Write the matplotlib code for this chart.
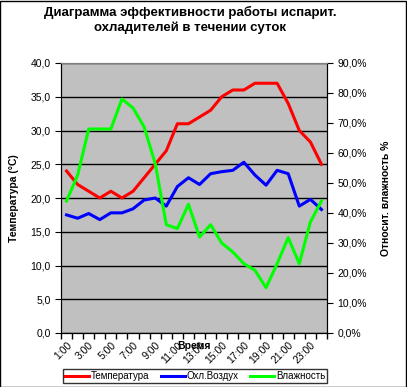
import numpy as np
import matplotlib.pyplot as plt
from matplotlib.patches import Rectangle
from matplotlib.ticker import FuncFormatter

plt.rcParams['font.family'] = ['Liberation Sans', 'DejaVu Sans']

hours = [f"{h}:00" for h in range(1, 25)]
temp = [24, 22, 21, 20, 21, 20, 21, 23, 25, 27, 31, 31,
        32, 33, 35, 36, 36, 37, 37, 37, 34, 30, 28.3, 25]
cooled = [17.5, 17, 17.7, 16.8, 17.8, 17.8, 18.4, 19.7, 20, 18.8, 21.7, 23,
          22, 23.6, 23.9, 24.1, 25.3, 23.4, 21.9, 24.1, 23.6, 18.8, 19.8, 18.3]
humidity = [44, 52.6, 68, 68, 68, 78, 75, 68.7, 56.5, 36.1, 34.8, 42.9,
            32, 36.1, 30, 27, 23.1, 20.9, 15.1, 23.1, 31.8, 23.1, 37, 44]

fig = plt.figure(figsize=(4.07, 3.87), dpi=100)
ax = fig.add_axes([61 / 407, 1 - 333 / 387, 266 / 407, 270 / 387])
ax2 = ax.twinx()

x = np.arange(len(hours))
l1, = ax.plot(x, temp, color='#ff0000', lw=2.2, label='Температура')
l2, = ax.plot(x, cooled, color='#0000ff', lw=2.2, label='Охл.Воздух')
l3, = ax2.plot(x, np.array(humidity) / 100, color='#00ff00', lw=2.2, label='Влажность')

ax.set_facecolor('#c0c0c0')
ax.set_xlim(-0.5, 23.5)
ax.set_ylim(0, 40)
ax.set_yticks(np.arange(0, 41, 5))
ax.yaxis.set_major_formatter(FuncFormatter(lambda v, p: f"{v:.1f}".replace('.', ',')))
ax.grid(axis='y', color='black', lw=1)
ax.set_axisbelow(True)

ax.set_xticks(x[::2], hours[::2], rotation=45, ha='right', rotation_mode='anchor')
ax.set_xticks(np.arange(-0.5, 24, 1), minor=True)
ax.tick_params(axis='x', which='major', length=0, labelsize=7.5, pad=5)
ax.tick_params(axis='x', which='minor', length=4, width=1, direction='out')
ax.tick_params(axis='y', length=4, labelsize=7.5, direction='out')

ax2.set_ylim(0, 0.9)
ax2.set_yticks(np.arange(0, 0.91, 0.1))
ax2.yaxis.set_major_formatter(FuncFormatter(lambda v, p: f"{v * 100:.1f}%".replace('.', ',')))
ax2.tick_params(axis='y', length=4, labelsize=7.5, direction='out')

for a in (ax, ax2):
    a.spines['top'].set_color('#808080')
    a.spines['left'].set_color('black')
    a.spines['bottom'].set_color('black')
    a.spines['right'].set_color('black')

ax.set_ylabel('Температура (°C)', fontsize=7.5, fontweight='bold', labelpad=8)
ax2.set_ylabel('Относит. влажность %', fontsize=7.5, fontweight='bold', labelpad=10,
               rotation=90)

fig.text(190 / 407, 1 - 20 / 387, 'Диаграмма эффективности работы испарит.\nохладителей в течении суток',
         ha='center', va='center', fontsize=9.5, fontweight='bold', linespacing=1.2)
fig.text(194 / 407, 1 - 346 / 387, 'Время', ha='center', va='center',
         fontsize=7.5, fontweight='bold')

leg = fig.legend(handles=[l1, l2, l3], loc='lower left', ncol=3,
                 bbox_to_anchor=(63 / 407, 1 - 383 / 387, 264 / 407, 15 / 387),
                 mode='expand', fontsize=7, frameon=True, fancybox=False,
                 borderpad=0.2, handlelength=2.5, handletextpad=0.2, borderaxespad=0)
leg.get_frame().set_edgecolor('black')
leg.get_frame().set_linewidth(1)

fig.patches.append(Rectangle((0.001, 0.001), 0.997, 0.997, transform=fig.transFigure,
                             fill=False, edgecolor='black', lw=1))

fig.savefig('out.png', dpi=100)
